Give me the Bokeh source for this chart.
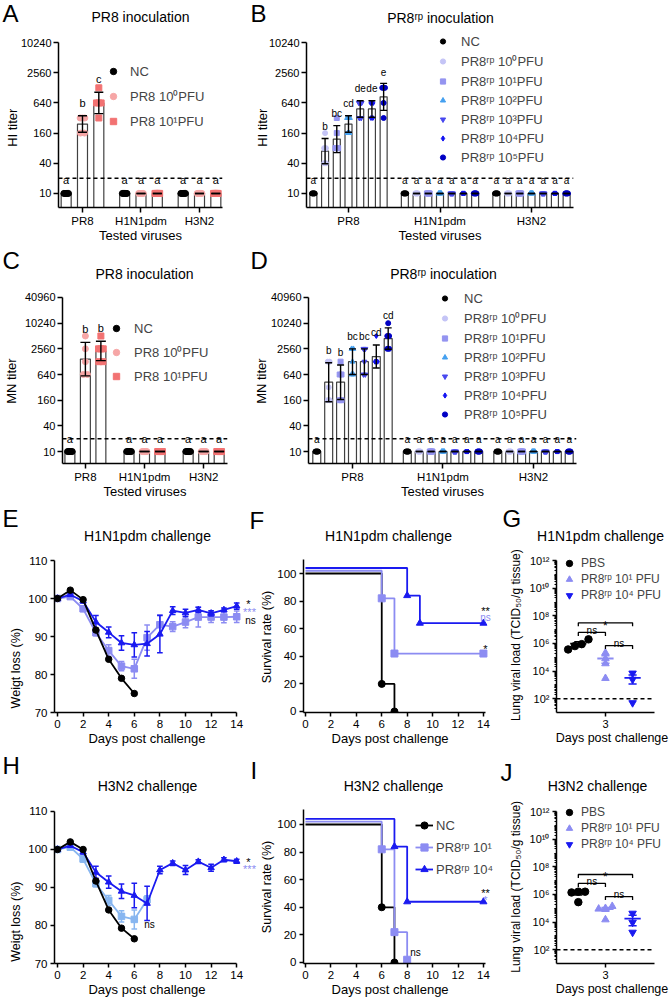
import numpy as np
from math import pi
from bokeh.plotting import figure
from bokeh.models import (Range1d, Label, FixedTicker, Span, Legend, LegendItem,
                          BasicTickFormatter)
from bokeh.layouts import row, column
from bokeh.embed import file_html
from bokeh.resources import INLINE
from bokeh.core.properties import value

FONT = "Liberation Sans"

# ======================= DATA =======================
viruses = ["PR8", "H1N1pdm", "H3N2"]
hi_ticks = [10, 40, 160, 640, 2560, 10240]
mn_ticks = [10, 40, 160, 640, 2560, 10240, 40960]
titer_cutoff = 20
NEG = [10, 10, 10, 10, 10]          # below-detection titers

# A: HI titer, PR8 inoculation (per virus -> per series -> mice)
A_series = ["NC", "PR8 10⁰PFU", "PR8 10¹PFU"]
A_points = [
    [NEG, [320, 320, 320, 160, 160], [1280, 640, 640, 640, 320]],
    [NEG, NEG, NEG],
    [NEG, NEG, NEG],
]
A_letters = [["a", "b", "c"], ["a", "a", "a"], ["a", "a", "a"]]

# B: HI titer, PR8rp inoculation
B_series = ["NC", "PR8ʳᵖ 10⁰PFU", "PR8ʳᵖ 10¹PFU", "PR8ʳᵖ 10²PFU",
            "PR8ʳᵖ 10³PFU", "PR8ʳᵖ 10⁴PFU", "PR8ʳᵖ 10⁵PFU"]
B_points = [
    [NEG, [160, 80, 80, 40, 40], [320, 160, 80, 80, 80], [320, 320, 320, 160, 160],
     [640, 640, 640, 320, 320], [640, 640, 640, 320, 320], [1280, 1280, 1280, 640, 320]],
    [NEG, NEG, NEG, NEG, NEG, NEG, NEG],
    [NEG, NEG, NEG, NEG, NEG, NEG, NEG],
]
B_letters = [["a", "b", "bc", "cd", "de", "de", "e"],
             ["a", "a", "a", "a", "a", "a", "a"],
             ["a", "a", "a", "a", "a", "a", "a"]]

# C: MN titer, PR8 inoculation
C_points = [
    [NEG, [5120, 2560, 1280, 640, 640], [5120, 2560, 2560, 2560, 1280, 1280]],
    [NEG, NEG, NEG],
    [NEG, NEG, NEG],
]
C_letters = [["a", "b", "b"], ["a", "a", "a"], ["a", "a", "a"]]

# D: MN titer, PR8rp inoculation
D_points = [
    [NEG, [1280, 1280, 320, 160, 160], [1280, 640, 640, 160, 160], [2560, 2560, 1280, 640, 640],
     [2560, 2560, 1280, 640, 640], [5120, 1280, 1280, 1280, 1280], [10240, 5120, 5120, 2560, 2560]],
    [NEG, NEG, NEG, NEG, NEG, NEG, NEG],
    [NEG, NEG, NEG, NEG, NEG, NEG, NEG],
]
D_letters = [["a", "b", "b", "bc", "bc", "cd", "cd"],
             ["a", "a", "a", "a", "a", "a", "a"],
             ["a", "a", "a", "a", "a", "a", "a"]]

# E / H: body weight (%)
days = [0, 1, 2, 3, 4, 5, 6, 7, 8, 9, 10, 11, 12, 13, 14]
E_nc = [100.0, 102.2, 99.7, 91.7, 84.0, 79.0, 75.0]
E_lo = [100.0, 100.5, 97.3, 91.0, 86.3, 82.2, 81.5, 89.7, 93.1, 92.6, 93.8, 95.1, 95.1, 95.1, 95.2]
E_lo_err = [0, 0.5, 0.7, 0.8, 1.5, 1.2, 2.5, 3.3, 2.6, 1.3, 1.5, 2.6, 1.4, 1.5, 1.5]
E_hi = [100.0, 101.0, 99.3, 93.8, 91.1, 88.3, 87.8, 88.1, 90.6, 96.8, 96.2, 97.0, 96.1, 97.0, 98.0]
E_hi_err = [0, 0.4, 0.5, 1.7, 1.4, 1.9, 3.2, 3.2, 4.9, 1.0, 1.0, 0.7, 0.7, 0.5, 0.8]

H_nc = [100.0, 102.0, 100.0, 91.7, 84.1, 79.3, 76.5]
H_lo = [100.0, 100.6, 97.5, 91.0, 86.6, 82.4, 81.6, 86.8]
H_lo_err = [0, 0.5, 0.8, 0.8, 1.3, 1.5, 2.5, 1.0]
H_hi = [100.0, 101.0, 99.3, 94.0, 91.4, 89.0, 87.9, 85.8, 94.6, 96.4, 94.6, 96.8, 95.2, 97.3, 96.9]
H_hi_err = [0, 0.4, 0.5, 1.6, 1.6, 1.9, 3.2, 4.5, 1.0, 0.6, 1.2, 0.5, 0.9, 0.5, 0.5]

# F / I: survival (%), plotted with GraphPad-style offsets
F_nc_t, F_nc_s = [0, 6, 7], [100, 20, 0]
F_lo_t, F_lo_s = [0, 6, 7, 14], [102, 82, 42, 42]
F_hi_t, F_hi_s = [0, 8, 9, 14], [104, 84, 64, 64]
I_nc_t, I_nc_s = [0, 6, 7], [100, 40, 0]
I_lo_t, I_lo_s = [0, 6, 7, 8], [102, 82, 22, 2]
I_hi_t, I_hi_s = [0, 7, 8, 14], [104, 84, 44, 44]
surv_series = ["NC", "PR8ʳᵖ 10¹", "PR8ʳᵖ 10⁴"]

# G / J: lung viral load (TCID50/g)
load_series = ["PBS", "PR8ʳᵖ 10¹ PFU", "PR8ʳᵖ 10⁴ PFU"]
G_pbs = [3.7e5, 2.0e6, 9.0e5, 6.5e5]
G_lo = [2.1e5, 8.0e4, 3.5e4, 3.0e3]
G_hi = [7.0e3, 2.5e3, 50]
J_pbs = [1.6e6, 1.4e6, 1.6e6, 2.8e5]
J_lo = [1.4e5, 1.0e5, 9.0e4, 1.5e4]
J_hi = [4.3e4, 9.5e3, 1.8e3]
load_limit = 100

# ======================= STYLE =======================
LAV = "#8C8CF2"
BLUE = "#1A1AF0"
LBLUE = "#88B6F0"
A_colors = ["#000000", "#F6A6A6", "#F27272"]
A_markers = ["circle", "circle", "square"]
B_colors = ["#000000", "#C4C4F6", "#9494F0", "#44A0F0", "#4848F0", "#1010F2", "#0000C4"]
B_markers = ["circle", "circle", "square", "triangle", "inverted_triangle", "diamond", "circle"]
SUP = str.maketrans("0123456789", "⁰¹²³⁴⁵⁶⁷⁸⁹")
NB = "\u00a0"
R90 = pi / 2

PANELS = {}


def header(name, oy, h):
    p = figure(width=670, height=h, x_range=Range1d(0, 670), y_range=Range1d(0, h),
               output_backend="svg", toolbar_location=None, x_axis_location=None,
               y_axis_location=None, min_border=0, title=None)
    p.outline_line_color = None
    p.grid.visible = False
    p.background_fill_color = "white"
    p.border_fill_color = "white"
    PANELS[name] = (p, 0, oy + h)
    return p


def mkfig(name, ox, oy, w, h, L, R, T, B, xr, yr, ytype="linear", tick_font="11px", tick_out=4,
          xlabel=None, ylabel=None, xls=0, yls=0, xlab_font="13px", ylab_font="13px"):
    p = figure(width=w, height=h, x_range=Range1d(*xr), y_range=Range1d(*yr), y_axis_type=ytype,
               output_backend="svg", toolbar_location=None, title=None,
               min_border_left=L - ox, min_border_right=ox + w - R,
               min_border_top=T - oy, min_border_bottom=oy + h - B)
    p.outline_line_color = None
    p.xgrid.visible = False
    p.ygrid.visible = False
    p.background_fill_color = "white"
    p.border_fill_color = "white"
    for ax in [*p.xaxis, *p.yaxis]:
        ax.axis_line_color = "black"
        ax.axis_line_width = 1.5
        ax.major_tick_line_color = "black"
        ax.major_tick_line_width = 1.5
        ax.major_tick_out = tick_out
        ax.major_tick_in = 0
        ax.minor_tick_line_color = None
        ax.major_label_text_font = FONT
        ax.major_label_text_font_size = tick_font
        ax.major_label_text_color = "black"
        ax.major_label_standoff = 2 if tick_out == 5 else 3
        ax.axis_label_text_font = FONT
        ax.axis_label_text_font_style = "normal"
        ax.axis_label_text_color = "black"
    p.xaxis.axis_label = xlabel
    p.xaxis.axis_label_standoff = xls
    p.xaxis.axis_label_text_font_size = xlab_font
    p.yaxis.axis_label = ylabel
    p.yaxis.axis_label_standoff = yls
    p.yaxis.axis_label_text_font_size = ylab_font
    PANELS[name] = (p, L, B)
    return p


def txt(name, px, py, text, size=13, color="black", align="center", baseline="middle", angle=0.0):
    p, L, B = PANELS[name]
    p.add_layout(Label(x=px - L, y=B - py, x_units="screen", y_units="screen", text=text,
                       text_font=FONT, text_font_size=f"{size}px", text_color=color,
                       text_align=align, text_baseline=baseline, angle=angle))


def legend(name, items, left, top_center, gw, gh, spacing, standoff, size=13):
    p, L, B = PANELS[name]
    n = len(items)
    bottom_page = top_center - gh / 2 + n * gh + (n - 1) * spacing
    leg = Legend(items=items, location=(left - L, B - bottom_page), orientation="vertical",
                 glyph_width=gw, glyph_height=gh, label_height=gh, label_width=10,
                 spacing=spacing, label_standoff=standoff, padding=0, margin=0,
                 border_line_color=None, background_fill_alpha=0,
                 label_text_font=FONT, label_text_font_size=f"{size}px",
                 label_text_baseline="middle")
    p.add_layout(leg)


def spread(vals, step, maxw):
    vals = list(vals)
    offs = np.zeros(len(vals))
    for v in sorted(set(vals)):
        idx = [j for j, u in enumerate(vals) if u == v]
        k = len(idx)
        st = min(step, maxw / (k - 1)) if k > 1 else 0.0
        for n, j in enumerate(idx):
            offs[j] = (n - (k - 1) / 2) * st
    return offs


def swarm(vals, step):
    lv = np.log10(np.asarray(vals, float))
    order = list(np.argsort(lv))
    offs = np.zeros(len(lv))
    clusters, cur = [], [order[0]]
    for a, b in zip(order[:-1], order[1:]):
        if lv[b] - lv[a] < 0.35:
            cur.append(b)
        else:
            clusters.append(cur)
            cur = [b]
    clusters.append(cur)
    for c in clusters:
        k = len(c)
        for n, j in enumerate(c):
            offs[j] = (n - (k - 1) / 2) * step
    return offs


def bar_panel(p, groups, letters, colors, markers, s, bw, cap, msize, step, maxw, ticks, lfont):
    nser = len(colors)
    ybot = p.y_range.start
    bx, btop, ex, elo, ehi, lx, ly, lt, lo = [], [], [], [], [], [], [], [], []
    px = [[] for _ in range(nser)]
    py = [[] for _ in range(nser)]
    for g, grp in enumerate(groups):
        for i, vals in enumerate(grp):
            vals = np.asarray(vals, float)
            xc = g + (i - (nser - 1) / 2) * s
            lg = np.log2(vals)
            m = lg.mean()
            sd = lg.std(ddof=1)
            bx.append(xc)
            btop.append(2 ** m)
            if sd > 0:
                ex.append(xc)
                elo.append(2 ** (m - sd))
                ehi.append(2 ** (m + sd))
            px[i].extend(list(xc + spread(vals, step, maxw)))
            py[i].extend(list(vals))
            lx.append(xc)
            ly.append(2 ** (m + sd))
            lt.append(letters[g][i])
            lo.append(-7 if sd > 0 else -4)
    p.vbar(x=bx, top=btop, bottom=ybot, width=bw, fill_color="white",
           line_color="#404040", line_width=1.2)
    rends = [p.scatter(px[i], py[i], marker=markers[i], size=msize,
                       fill_color=colors[i], line_color=colors[i]) for i in range(nser)]
    ex = np.array(ex)
    p.segment(ex, elo, ex, ehi, line_color="black", line_width=1.4)
    p.segment(ex - cap / 2, ehi, ex + cap / 2, ehi, line_color="black", line_width=1.4)
    p.segment(ex - cap / 2, elo, ex + cap / 2, elo, line_color="black", line_width=1.4)
    p.text(x=lx, y=ly, text=lt, y_offset=lo, text_font=value(FONT), text_font_size=value(lfont),
           text_align="center", text_baseline="bottom", text_color="black")
    p.add_layout(Span(location=titer_cutoff, dimension="width", line_dash="4 3",
                      line_width=1.5, line_color="black"))
    p.xaxis.ticker = FixedTicker(ticks=[0, 1, 2])
    p.xaxis.major_label_overrides = {0: viruses[0], 1: viruses[1], 2: viruses[2]}
    p.xaxis.major_label_text_font_size = "11.5px"
    p.yaxis.ticker = FixedTicker(ticks=ticks)
    p.yaxis.formatter = BasicTickFormatter(use_scientific=False)
    p.yaxis.bounds = (ybot, ticks[-1])
    return rends


def weight_panel(p, nc, lo, lo_err, hi, hi_err, lo_color):
    for vals, err, col, mk in [(lo, lo_err, lo_color, "square"), (hi, hi_err, BLUE, "triangle"),
                               (nc, None, "black", "circle")]:
        x = days[:len(vals)]
        p.line(x, vals, line_color=col, line_width=1.8)
        if err is not None:
            xe = np.array([d for d, e in zip(x, err) if e > 0], float)
            ve = np.array([v for v, e in zip(vals, err) if e > 0])
            ee = np.array([e for e in err if e > 0])
            p.segment(xe, ve - ee, xe, ve + ee, line_color=col, line_width=1.5)
            p.segment(xe - 0.22, ve + ee, xe + 0.22, ve + ee, line_color=col, line_width=1.5)
            p.segment(xe - 0.22, ve - ee, xe + 0.22, ve - ee, line_color=col, line_width=1.5)
        p.scatter(x, vals, marker=mk, size=6.5, fill_color=col, line_color=col)
    yt = [70, 80, 90, 100, 110]
    p.xaxis.ticker = FixedTicker(ticks=[0, 2, 4, 6, 8, 10, 12, 14])
    p.xaxis.bounds = (p.x_range.start, days[-1])
    p.yaxis.ticker = FixedTicker(ticks=yt)
    p.yaxis.bounds = (yt[0], yt[-1])


def surv_panel(p, curves):
    items = []
    for (t, s), col, mk, lab in zip(curves, ["black", LAV, BLUE], ["circle", "square", "triangle"],
                                    surv_series):
        r1 = p.step(t, s, mode="after", line_color=col, line_width=1.8)
        r2 = p.scatter(t[1:], s[1:], marker=mk, size=7, fill_color=col, line_color=col)
        items.append(LegendItem(label=lab, renderers=[r1, r2]))
    p.xaxis.ticker = FixedTicker(ticks=[0, 2, 4, 6, 8, 10, 12, 14])
    p.xaxis.bounds = (p.x_range.start, days[-1] + 0.2)
    p.yaxis.ticker = FixedTicker(ticks=[0, 20, 40, 60, 80, 100])
    p.yaxis.bounds = (p.y_range.start, 110.5)
    return items


def load_panel(p, groups, bracket_levels):
    items = []
    xend = len(groups) + 0.8
    for k, (vals, col, mk, lab) in enumerate(zip(groups, ["black", LAV, BLUE],
                                                 ["circle", "triangle", "inverted_triangle"],
                                                 load_series)):
        xc = k + 1
        vals = np.asarray(vals, float)
        r = p.scatter(xc + swarm(vals, 0.25), vals, marker=mk, size=7.5, fill_color=col, line_color=col)
        items.append(LegendItem(label=lab, renderers=[r]))
        m = vals.mean()
        sem = vals.std(ddof=1) / np.sqrt(len(vals))
        p.segment(xc - 0.3, m, xc + 0.3, m, line_color=col, line_width=1.8)
        p.segment(xc, m - sem, xc, m + sem, line_color=col, line_width=1.5)
        p.segment(xc - 0.15, m + sem, xc + 0.15, m + sem, line_color=col, line_width=1.5)
        p.segment(xc - 0.15, m - sem, xc + 0.15, m - sem, line_color=col, line_width=1.5)
    p.segment(p.x_range.start, load_limit, xend, load_limit, line_dash="4 3",
              line_width=1.5, line_color="black")
    for (x1, x2, lab), lev in zip([(1, 3, "*"), (1, 2, "ns"), (2, 3, "ns")], bracket_levels):
        y = 10 ** lev
        yd = 10 ** (lev - 0.25)
        p.line([x1, x1, x2, x2], [yd, y, y, yd], line_color="black", line_width=1.3)
        p.text(x=[(x1 + x2) / 2], y=[y], text=[lab], y_offset=3 if lab == "*" else -2,
               text_font=value(FONT), text_font_size=value("12px" if lab == "*" else "10px"),
               text_align="center", text_baseline="alphabetic", text_color="black")
    majors = [10 ** e for e in range(2, 13, 2)]
    minors = [m * 10 ** e for e in range(1, 12) for m in range(1, 10)
              if m * 10 ** e not in majors and m * 10 ** e > 10]
    p.yaxis.ticker = FixedTicker(ticks=majors, minor_ticks=minors)
    p.yaxis.major_label_overrides = {v: "10" + str(int(round(np.log10(v)))).translate(SUP) for v in majors}
    p.yaxis.minor_tick_line_color = "black"
    p.yaxis.minor_tick_out = 2
    p.yaxis.minor_tick_in = 0
    p.yaxis.minor_tick_line_width = 1
    p.yaxis.bounds = (10, 1e12)
    p.xaxis.ticker = FixedTicker(ticks=[2])
    p.xaxis.major_label_overrides = {2: "3"}
    p.xaxis.bounds = (p.x_range.start, xend)
    return items


DPC = "Days post challenge"
LV = "Lung viral load (TCID₅₀/g tissue)"
SR = "Survival rate (%)" + NB * 2

# ======================= ROW 1 =======================
h1 = header("h1", 0, 26)
pA = mkfig("A", 0, 26, 245, 222, 58, 222, 33, 207, (-0.41, 2.393), (5.24, 15525), "log", tick_out=5,
           xlabel="Tested viruses", ylabel="HI titer" + NB * 4, xls=-2, yls=-2)
rA = bar_panel(pA, A_points, A_letters, A_colors, A_markers, 0.279, 0.171, 0.154, 6, 0.07, 0.08,
               hi_ticks, "11px")
pB = mkfig("B", 245, 26, 425, 222, 306, 573, 33, 207, (-0.459, 2.459), (5.24, 15525), "log", tick_out=5,
           xlabel="Tested viruses", ylabel="HI titer" + NB * 4, xls=-2, yls=-4)
rB = bar_panel(pB, B_points, B_letters, B_colors, B_markers, 0.128, 0.0765, 0.076, 5, 0.02, 0.03,
               hi_ticks, "10px")
legend("A", [LegendItem(label=l, renderers=[r]) for l, r in zip(A_series, rA)], 105, 73, 16, 16, 8, 9)
legend("B", [LegendItem(label=l, renderers=[r]) for l, r in zip(B_series, rB)], 436, 43, 13, 16, 3, 12)

# ======================= ROW 2 =======================
h2 = header("h2", 248, 33)
pC = mkfig("C", 0, 281, 245, 222, 61, 227, 291, 463, (-0.387, 2.403), (5.24, 56610), "log", tick_out=5,
           xlabel="Tested viruses", ylabel="MN titer" + NB * 2, xls=-2, yls=3)
rC = bar_panel(pC, C_points, C_letters, A_colors, A_markers, 0.262, 0.168, 0.168, 6, 0.07, 0.08,
               mn_ticks, "11px")
pD = mkfig("D", 245, 281, 425, 222, 308, 576, 291, 463, (-0.486, 2.475), (5.24, 56610), "log", tick_out=5,
           xlabel="Tested viruses", ylabel="MN titer" + NB * 2, xls=-2, yls=-1)
rD = bar_panel(pD, D_points, D_letters, B_colors, B_markers, 0.1315, 0.088, 0.077, 5, 0.02, 0.03,
               mn_ticks, "10px")
legend("C", [LegendItem(label=l, renderers=[r]) for l, r in zip(A_series, rC)], 107, 330, 16, 16, 7, 10)
legend("D", [LegendItem(label=l, renderers=[r]) for l, r in zip(B_series, rD)], 438, 300, 13, 16, 3, 13)

# ======================= ROW 3 =======================
h3 = header("h3", 503, 41)
pE = mkfig("E", 0, 544, 257, 206, 54, 257, 554, 712, (-0.234, 15.625), (70, 111.58), tick_font="11.5px",
           xlabel=DPC + NB * 5, ylabel="Weigt loss (%)" + NB * 20, xls=0, yls=2, ylab_font="12.5px")
weight_panel(pE, E_nc, E_lo, E_lo_err, E_hi, E_hi_err, LAV)
pF = mkfig("F", 257, 544, 248, 206, 300, 505, 554, 712, (-0.155, 15.736), (-0.725, 113.77), tick_font="11.5px",
           xlabel=DPC + NB * 8, ylabel=SR, xls=0, yls=0, ylab_font="12.5px")
surv_panel(pF, [(F_nc_t, F_nc_s), (F_lo_t, F_lo_s), (F_hi_t, F_hi_s)])
pG = mkfig("G", 505, 544, 165, 206, 550, 667, 554, 712, (0.196, 4.287), (10, 10 ** 12.449), "log",
           tick_font="11px", xlabel=DPC, ylabel=LV + NB, xls=0, yls=4, xlab_font="12.5px", ylab_font="12px")
itemsG = load_panel(pG, [G_pbs, G_lo, G_hi], [7.5, 6.8, 5.85])
legend("G", itemsG, 555, 563, 16, 16, 0, 4, 12)

# ======================= ROW 4 =======================
h4 = header("h4", 750, 43)
pH = mkfig("H", 0, 793, 257, 208, 54, 257, 803, 963, (-0.234, 15.625), (70, 112.1), tick_font="11.5px",
           xlabel=DPC + NB * 5, ylabel="Weigt loss (%)" + NB * 22, xls=0, yls=2, ylab_font="12.5px")
weight_panel(pH, H_nc, H_lo, H_lo_err, H_hi, H_hi_err, LBLUE)
pI = mkfig("I", 257, 793, 248, 208, 300, 505, 803, 963, (-0.155, 15.736), (-0.725, 115.2), tick_font="11.5px",
           xlabel=DPC + NB * 8, ylabel=SR, xls=0, yls=0, ylab_font="12.5px")
itemsI = surv_panel(pI, [(I_nc_t, I_nc_s), (I_lo_t, I_lo_s), (I_hi_t, I_hi_s)])
legend("I", itemsI, 412, 825, 18, 18, 4, 3)
pJ = mkfig("J", 505, 793, 165, 208, 550, 667, 803, 963, (0.196, 4.287), (10, 10 ** 12.594), "log",
           tick_font="11px", xlabel=DPC, ylabel=LV + NB * 2, xls=0, yls=4, xlab_font="12.5px", ylab_font="12px")
itemsJ = load_panel(pJ, [J_pbs, J_lo, J_hi], [7.45, 6.8, 5.85])
legend("J", itemsJ, 555, 812, 16, 16, 0, 4, 12)

# ======================= HEADER TEXTS / ANNOTATIONS =======================
txt("h1", 2, 13, "A", 24, align="left")
txt("h1", 140, 16, "PR8 inoculation", 14)
txt("h1", 250, 13, "B", 24, align="left")
txt("h1", 440, 17, "PR8ʳᵖ inoculation", 14)

txt("h2", 2, 260, "C", 24, align="left")
txt("h2", 144, 273, "PR8 inoculation", 14)
txt("h2", 250, 260, "D", 24, align="left")
txt("h2", 443, 273, "PR8ʳᵖ inoculation", 14)

txt("h3", 2, 518, "E", 24, align="left")
txt("h3", 147, 535, "H1N1pdm challenge", 14)
txt("h3", 249, 520, "F", 24, align="left")
txt("h3", 388, 535, "H1N1pdm challenge", 14)
txt("h3", 502, 518, "G", 24, align="left")
txt("h3", 600, 535, "H1N1pdm challenge", 14)

txt("h4", 2, 765, "H", 24, align="left")
txt("h4", 147, 785, "H3N2 challenge", 14)
txt("h4", 250, 770, "I", 24, align="left")
txt("h4", 393, 785, "H3N2 challenge", 14)
txt("h4", 500, 772, "J", 24, align="left")
txt("h4", 597, 785, "H3N2 challenge", 14)

txt("E", 248, 603, "*", 11)
txt("E", 249, 611, "***", 11, LAV)
txt("E", 250, 620, "ns", 10)
txt("F", 482, 610, "**", 11)
txt("F", 482, 617, "ns", 10, LAV)
txt("F", 482, 648, "*", 11)
txt("H", 248, 861, "*", 11)
txt("H", 249, 868, "***", 11, LAV)
txt("H", 149, 924, "ns", 10)
txt("I", 412, 952, "ns", 10)
txt("I", 482, 892, "**", 11)
txt("I", 482, 899, "*", 11, LAV)

layout = column(h1, row(pA, pB), h2, row(pC, pD), h3, row(pE, pF, pG), h4, row(pH, pI, pJ))
open("out.html", "w").write(file_html(layout, INLINE))
